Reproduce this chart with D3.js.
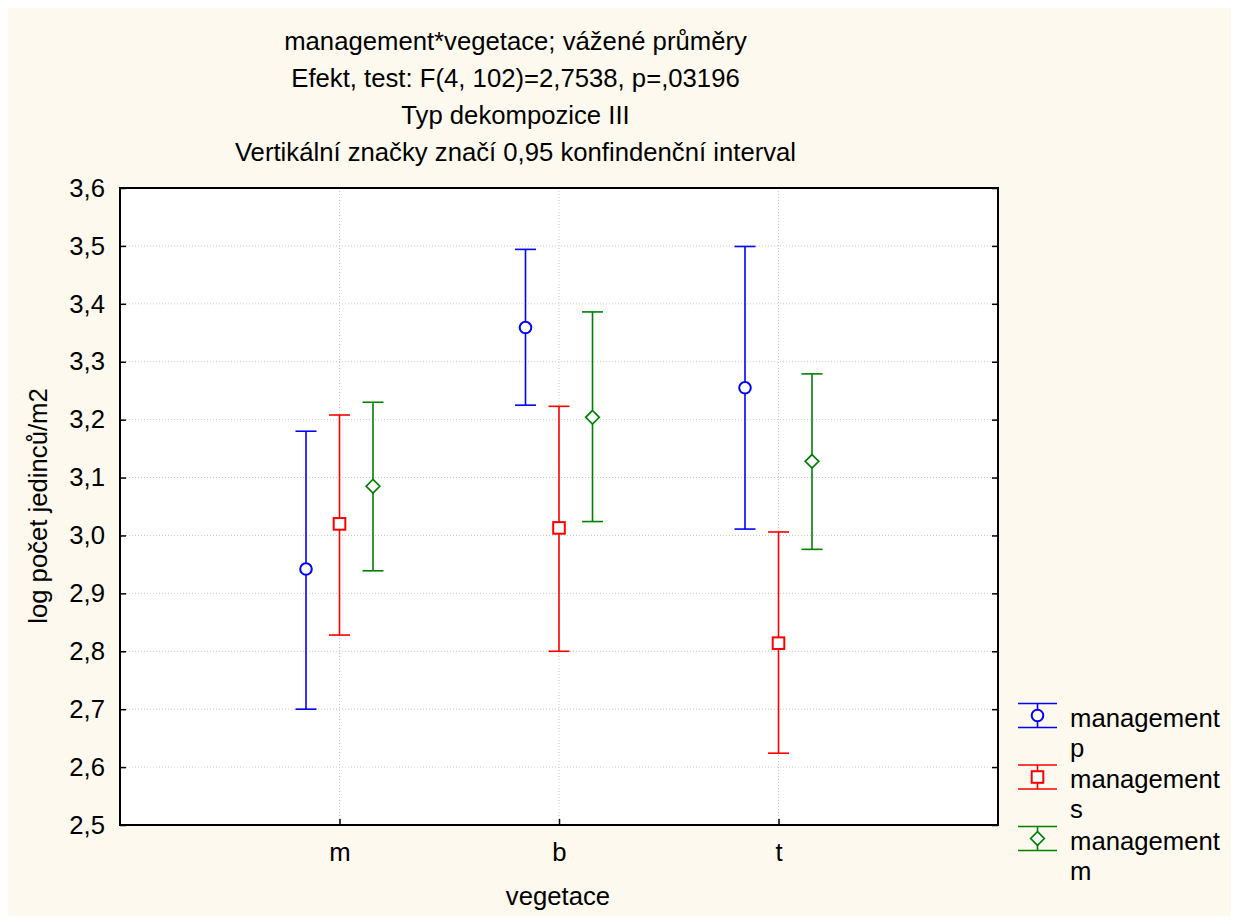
<!DOCTYPE html>
<html><head><meta charset="utf-8">
<script src="https://cdn.jsdelivr.net/npm/d3@7"></script>
<style>
body{margin:0;background:#fff;}
text{font-family:"Liberation Sans",Arial,sans-serif;fill:#000;}
</style></head>
<body>
<svg id="c" width="1239" height="924"></svg>
<script>
const titleLines = ["management*vegetace; vážené průměry","Efekt, test: F(4, 102)=2,7538, p=,03196","Typ dekompozice III","Vertikální značky značí 0,95 konfindenční interval"];
const categories = ["m","b","t"];
const seriesNames = ["management\np","management\ns","management\nm"];
const seriesColors = ["#0000ff","#ff0000","#008000"];
const seriesShapes = ["circle","square","diamond"];
const meanP = [2.942, 3.359, 3.255];
const loP   = [2.700, 3.225, 3.011];
const hiP   = [3.180, 3.494, 3.499];
const meanS = [3.020, 3.013, 2.814];
const loS   = [2.828, 2.800, 2.624];
const hiS   = [3.208, 3.223, 3.006];
const meanM = [3.085, 3.204, 3.128];
const loM   = [2.939, 3.024, 2.976];
const hiM   = [3.230, 3.386, 3.279];
const yTicks = [2.5,2.6,2.7,2.8,2.9,3.0,3.1,3.2,3.3,3.4,3.5,3.6];
const xLabel = "vegetace";
const yLabel = "log počet jedinců/m2";

const series = [
  {mean:meanP, lo:loP, hi:hiP},
  {mean:meanS, lo:loS, hi:hiS},
  {mean:meanM, lo:loM, hi:hiM}
];
const FS = 25.7;

const svg = d3.select("#c");
svg.append("rect").attr("x",8).attr("y",8).attr("width",1223).attr("height",908).attr("fill","#fdf9ee");

const L=120,R=998,T=188,B=825;
const x = d3.scalePoint().domain(categories).range([L,R]).padding(1);
const off = d3.scalePoint().domain([0,1,2]).range([-33.5,33.5]);
const y = d3.scaleLinear().domain([2.5,3.6]).range([B,T]);

svg.append("rect").attr("x",L).attr("y",T).attr("width",R-L).attr("height",B-T).attr("fill","#fff");

// grid
const g = svg.append("g");
g.selectAll(".hg").data(yTicks.slice(1,-1)).join("line")
 .attr("x1",L).attr("x2",R).attr("y1",d=>y(d)).attr("y2",d=>y(d))
 .attr("stroke","#c8c8c8").attr("stroke-width",1).attr("stroke-dasharray","1,2");
g.selectAll(".vg").data(categories).join("line")
 .attr("x1",d=>x(d)).attr("x2",d=>x(d)).attr("y1",T).attr("y2",B)
 .attr("stroke","#c8c8c8").attr("stroke-width",1).attr("stroke-dasharray","1,2");

// axes (inward ticks)
const yAxL = d3.axisLeft(y).tickValues(yTicks).tickSize(-6).tickPadding(15).tickFormat(d=>d3.format(".1f")(d).replace(".",","));
const ga = svg.append("g").attr("transform",`translate(${L},0)`).call(yAxL);
ga.select(".domain").remove();
ga.selectAll("text").attr("font-size",FS).style("font-family","Liberation Sans, Arial, sans-serif");
ga.selectAll("line").attr("stroke","#000").attr("stroke-width",1.5);
const yAxR = d3.axisRight(y).tickValues(yTicks).tickSize(-6).tickFormat("");
const gr = svg.append("g").attr("transform",`translate(${R},0)`).call(yAxR);
gr.select(".domain").remove();
gr.selectAll("line").attr("stroke","#000").attr("stroke-width",1.5);
const xAx = d3.axisBottom(x).tickSize(-6).tickPadding(18);
const gx = svg.append("g").attr("transform",`translate(0,${B})`).call(xAx);
gx.select(".domain").remove();
gx.selectAll("text").attr("font-size",FS).style("font-family","Liberation Sans, Arial, sans-serif");
gx.selectAll("line").attr("stroke","#000").attr("stroke-width",1.5);

svg.append("rect").attr("x",L).attr("y",T).attr("width",R-L).attr("height",B-T)
 .attr("fill","none").attr("stroke","#000").attr("stroke-width",2);

// markers
function marker(sel, shape, color){
  if(shape==="circle") sel.append("circle").attr("r",5.8).attr("fill","#fff").attr("stroke",color).attr("stroke-width",2);
  else if(shape==="square") sel.append("rect").attr("x",-5.8).attr("y",-5.8).attr("width",11.6).attr("height",11.6).attr("fill","#fff").attr("stroke",color).attr("stroke-width",2);
  else sel.append("path").attr("d","M0,-6.8L6.8,0L0,6.8L-6.8,0Z").attr("fill","#fff").attr("stroke",color).attr("stroke-width",1.7);
}

series.forEach((s,i)=>{
  const col = seriesColors[i];
  const sg = svg.append("g");
  categories.forEach((c,j)=>{
    const cx = x(c)+off(i);
    sg.append("line").attr("x1",cx).attr("x2",cx).attr("y1",y(s.lo[j])).attr("y2",y(s.hi[j])).attr("stroke",col).attr("stroke-width",1.6);
    [s.lo[j],s.hi[j]].forEach(v=>{
      sg.append("line").attr("x1",cx-10.5).attr("x2",cx+10.5).attr("y1",y(v)).attr("y2",y(v)).attr("stroke",col).attr("stroke-width",1.6);
    });
    const mg = sg.append("g").attr("transform",`translate(${cx},${y(s.mean[j])})`);
    marker(mg, seriesShapes[i], col);
  });
});

// titles
titleLines.forEach((t,i)=>{
  svg.append("text").attr("x",515.5).attr("y",49.5+i*37.3).attr("text-anchor","middle").attr("font-size",FS).text(t);
});
svg.append("text").attr("x",558).attr("y",905).attr("text-anchor","middle").attr("font-size",FS).text(xLabel);
svg.append("text").attr("transform","translate(47,506) rotate(-90)").attr("text-anchor","middle").attr("font-size",FS).text(yLabel);

// legend
seriesNames.forEach((n,i)=>{
  const col = seriesColors[i];
  const cy = 715.5 + i*61.5;
  const lg = svg.append("g");
  lg.append("line").attr("x1",1018).attr("x2",1057).attr("y1",cy-12).attr("y2",cy-12).attr("stroke",col).attr("stroke-width",1.6);
  lg.append("line").attr("x1",1018).attr("x2",1057).attr("y1",cy+12).attr("y2",cy+12).attr("stroke",col).attr("stroke-width",1.6);
  lg.append("line").attr("x1",1037.5).attr("x2",1037.5).attr("y1",cy-12).attr("y2",cy+12).attr("stroke",col).attr("stroke-width",1.6);
  const mg = lg.append("g").attr("transform",`translate(1037.5,${cy})`);
  marker(mg, seriesShapes[i], col);
  n.split("\n").forEach((ln,k)=>{
    lg.append("text").attr("x",1070).attr("y",cy+11+k*30).attr("font-size",FS).text(ln);
  });
});
</script>
</body></html>
